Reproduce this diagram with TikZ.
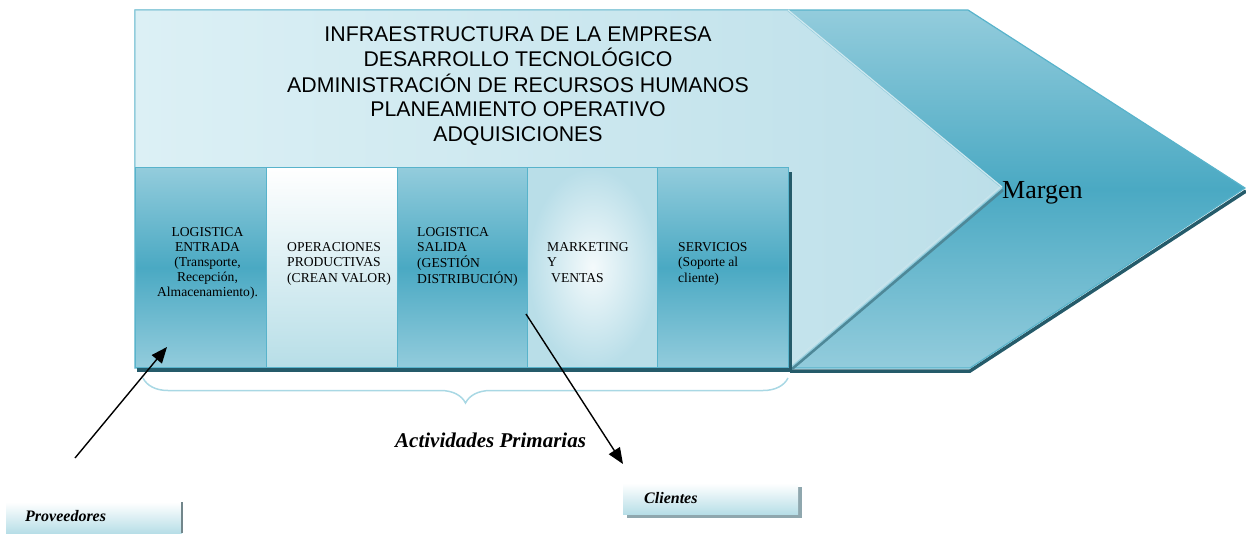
\documentclass[tikz,border=0pt]{standalone}
\usepackage{fontspec}
\setmainfont{Liberation Serif}
\newfontfamily\arialfont{Liberation Sans}
\usetikzlibrary{arrows.meta,decorations.pathreplacing,shadings}

\definecolor{cTop}{HTML}{93CCDC}
\definecolor{cMid}{HTML}{4AA9C3}
\definecolor{cEdge}{HTML}{58B3CB}
\definecolor{cDark}{HTML}{255B6A}
\definecolor{cPale}{HTML}{DCF0F5}
\definecolor{cPale2}{HTML}{BCDFE9}
\definecolor{cBrace}{HTML}{A9D8E4}
\definecolor{cLow}{HTML}{B7DEE7}
\definecolor{cGrey}{HTML}{8FA7AE}
\definecolor{cDiag}{HTML}{4E8898}

\tikzset{
  darkbox/.style={top color=cTop,bottom color=cTop,middle color=cMid,draw=cEdge,line width=1.3pt,
    minimum width=131pt,minimum height=200pt,inner sep=0pt,anchor=north west},
  whitebox/.style={top color=white,bottom color=cLow,draw=cEdge,line width=1.3pt,
    minimum width=131pt,minimum height=200pt,inner sep=0pt,anchor=north west},
  softbox/.style={inner color=white!90!cTop,outer color=cTop!65!white,draw=cEdge,line width=1.3pt,
    minimum width=130pt,minimum height=200pt,inner sep=0pt,anchor=north west},
  boxtext/.style={inner sep=0pt,font=\fontsize{13.6}{15.2}\selectfont},
  tagbox/.style={top color=white,bottom color=cLow,minimum height=31pt,inner sep=0pt,anchor=north west},
  tagtext/.style={inner sep=0pt,anchor=base west,font=\fontsize{16}{19}\selectfont\bfseries\itshape},
  arr/.style={line width=1.4pt,-{Triangle[length=16pt,width=13pt]}}
}

\begin{document}
\begin{tikzpicture}[x=1pt,y=-1pt]
\useasboundingbox (0,0) rectangle (1246,533);

% outer chevron shadow and body
\draw[cDark,line width=3.5pt] (1246,191) -- (970,371) -- (790,371);
\path[top color=cTop,bottom color=cTop,middle color=cMid,draw=cEdge,line width=1.2pt]
  (135,10) -- (968,10) -- (1245,188) -- (970,368) -- (135,368) -- cycle;

% inner light chevron
\path[left color=cPale,right color=cPale2,draw=cTop,line width=1pt]
  (135,10) -- (787,10) -- (1002,188) -- (790,368) -- (135,368) -- cycle;
\draw[white!55!cTop,line width=1.2pt] (788,10) -- (1002,187);
\draw[cDiag,line width=2.5pt] (792,369) -- (1003,190);
\draw[white!50!cTop,line width=1pt] (789,365) -- (1000,187);

% top text
\node[inner sep=0pt,anchor=base,font=\arialfont\fontsize{21.3}{24.3}\selectfont] (sup) at (518,41)
  {\begin{tabular}[t]{@{}c@{}}INFRAESTRUCTURA DE LA EMPRESA\\ DESARROLLO TECNOLÓGICO\\ ADMINISTRACIÓN DE RECURSOS HUMANOS\\ PLANEAMIENTO OPERATIVO\\ ADQUISICIONES\end{tabular}};

% box shadows
\fill[cDark] (137,366) rectangle (791,372);
\fill[cDark] (788,172) rectangle (791.5,372);

% primary activity boxes
\node[darkbox] (b1) at (135,167) {};
\node[whitebox] (b2) at (266,167) {};
\node[darkbox] (b3) at (397,167) {};
\node[softbox] (b4) at (527,167) {};
\node[darkbox] (b5) at (657,167) {};

\node[boxtext,anchor=base] (t1) at (207.5,236)
  {\begin{tabular}[t]{@{}c@{}}LOGISTICA\\ ENTRADA\\ (Transporte,\\ Recepción,\\ Almacenamiento).\end{tabular}};
\node[boxtext,anchor=base west] (t2) at (287,251.7)
  {\begin{tabular}[t]{@{}l@{}}OPERACIONES\\ PRODUCTIVAS\\ (CREAN VALOR)\end{tabular}};
\node[boxtext,anchor=base west] (t3) at (417,236)
  {\begin{tabular}[t]{@{}l@{}}LOGISTICA\\ SALIDA\\ (GESTIÓN\\ DISTRIBUCIÓN)\end{tabular}};
\node[boxtext,anchor=base west] (t4) at (547,251.7)
  {\begin{tabular}[t]{@{}l@{}}MARKETING\\ Y\\ \hspace{4pt}VENTAS\end{tabular}};
\node[boxtext,anchor=base west] (t5) at (678,251.7)
  {\begin{tabular}[t]{@{}l@{}}SERVICIOS\\ (Soporte al\\ cliente)\end{tabular}};

% margin label
\node[inner sep=0pt,anchor=base west,font=\fontsize{26}{30}\selectfont] (mg) at (1002,198) {Margen};

% brace and label
\draw[cBrace,line width=1.5pt,decorate,decoration={brace,amplitude=25pt,mirror}] (143,378) -- (788,378);
\node[inner sep=0pt,anchor=base west,font=\fontsize{21}{25}\selectfont\bfseries\itshape] (ap) at (395,447) {Actividades Primarias};

% Proveedores
\node[tagbox,minimum width=176pt] (pb) at (6,502) {};
\draw[cGrey!80!black,line width=2pt] (pb.north east) -- (pb.south east);
\node[tagtext] (pt) at (25,521) {Proveedores};

% Clientes
\fill[cGrey] (627,487) rectangle (802,518);
\node[tagbox,minimum width=175pt] (cb) at (623,483) {};
\node[tagtext] (ct) at (644,503) {Clientes};

% arrows
\coordinate (pa) at (75,458);
\coordinate (pz) at (167,347);
\draw[arr] (pa) -- (pz);
\coordinate (ca) at (526,314);
\coordinate (cz) at (623,464);
\draw[arr] (ca) -- (cz);
\end{tikzpicture}
\end{document}
